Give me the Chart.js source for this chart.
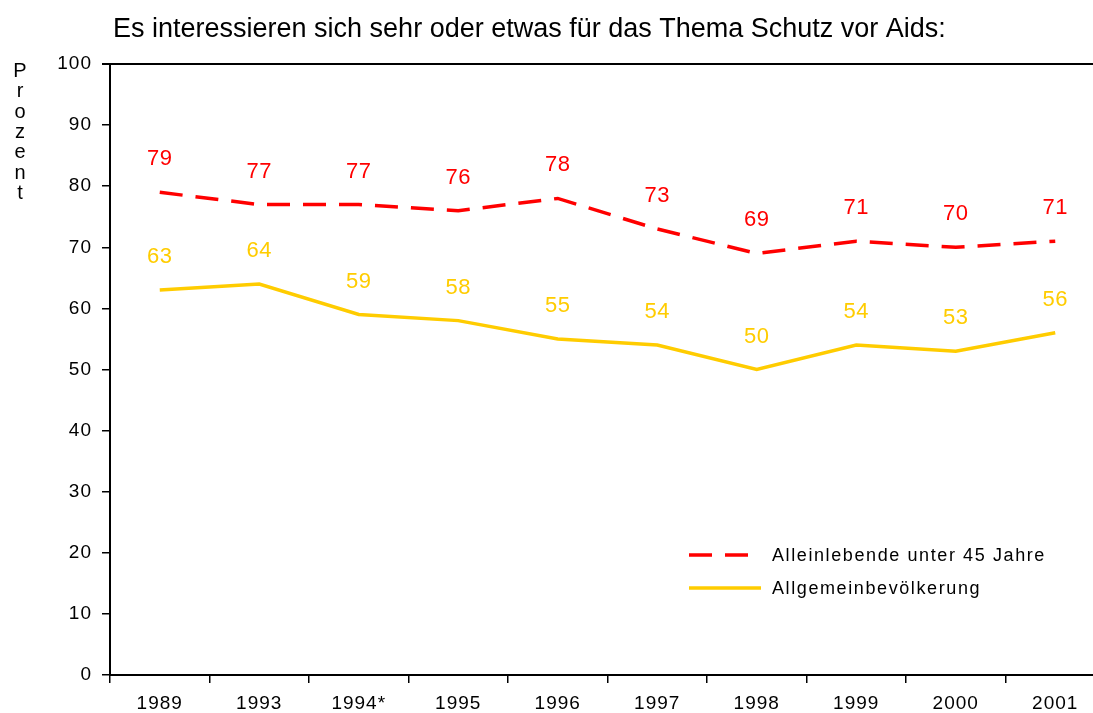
<!DOCTYPE html>
<html>
<head>
<meta charset="utf-8">
<script src="https://cdn.jsdelivr.net/npm/chart.js@4"></script>
<style>
  html, body { margin: 0; padding: 0; background: #fff; overflow: hidden; }
  #wrap { width: 1093px; height: 713px; overflow: hidden; }
</style>
</head>
<body>
<div id="wrap"><canvas id="chart" width="1110" height="713"></canvas></div>
<script>
// ----------------------------
// DATA
// ----------------------------
const years = ["1989", "1993", "1994*", "1995", "1996", "1997", "1998", "1999", "2000", "2001"];
const singlesUnder45 = [79, 77, 77, 76, 78, 73, 69, 71, 70, 71];
const generalPopulation = [63, 64, 59, 58, 55, 54, 50, 54, 53, 56];
const yTicks = [0, 10, 20, 30, 40, 50, 60, 70, 80, 90, 100];

const chartTitle = "Es interessieren sich sehr oder etwas für das Thema Schutz vor Aids:";
const yTitle = "Prozent";

const RED = "#ff0000";
const YELLOW = "#ffcc00";
const FONT = "'Liberation Sans', Arial, sans-serif";

// ----------------------------
// EXTRA DRAWING (labels, legend, title)
// ----------------------------
const extrasPlugin = {
  id: "extras",
  beforeDraw(chart) {
    chart.ctx.letterSpacing = "1px";
  },
  afterDatasetsDraw(chart) {
    const ctx = chart.ctx;
    ctx.save();
    ctx.letterSpacing = "0.6px";
    ctx.font = "22px " + FONT;
    ctx.textAlign = "center";
    ctx.textBaseline = "alphabetic";
    chart.data.datasets.forEach((ds, i) => {
      const meta = chart.getDatasetMeta(i);
      ctx.fillStyle = ds.borderColor;
      meta.data.forEach((pt, j) => {
        ctx.fillText(String(ds.data[j]), pt.x, pt.y - 27);
      });
    });
    ctx.restore();
  },
  afterDraw(chart) {
    const ctx = chart.ctx;
    const area = chart.chartArea;
    ctx.save();

    // top frame line
    ctx.strokeStyle = "#000";
    ctx.lineWidth = 2;
    ctx.beginPath();
    ctx.moveTo(area.left - 8, area.top);
    ctx.lineTo(area.right, area.top);
    ctx.stroke();

    // title
    ctx.letterSpacing = "0px";
    ctx.fillStyle = "#000";
    ctx.font = "27px " + FONT;
    ctx.textAlign = "left";
    ctx.textBaseline = "alphabetic";
    ctx.fillText(chartTitle, 113, 37);

    // vertical y title, one letter per line
    ctx.font = "20px " + FONT;
    ctx.textAlign = "center";
    yTitle.split("").forEach((ch, k) => {
      ctx.fillText(ch, 20, 77 + k * 20.3);
    });

    // legend
    ctx.font = "18px " + FONT;
    ctx.letterSpacing = "1.6px";
    ctx.textAlign = "left";
    ctx.textBaseline = "middle";
    const rows = [
      { y: 555, ds: chart.data.datasets[0] },
      { y: 588, ds: chart.data.datasets[1] },
    ];
    rows.forEach((r) => {
      ctx.strokeStyle = r.ds.borderColor;
      ctx.lineWidth = r.ds.borderWidth;
      ctx.setLineDash(r.ds.borderDash || []);
      ctx.beginPath();
      ctx.moveTo(689, r.y);
      ctx.lineTo(r.ds.borderDash ? 750 : 761, r.y);
      ctx.stroke();
      ctx.setLineDash([]);
      ctx.fillStyle = "#000";
      ctx.fillText(r.ds.label, 772, r.y + 1);
    });
    ctx.restore();
  },
};

// ----------------------------
// CHART
// ----------------------------
const axisGrid = {
  display: true,
  drawOnChartArea: false,
  drawTicks: true,
  tickLength: 8,
  color: "#000",
  lineWidth: 1.5,
};

new Chart(document.getElementById("chart"), {
  type: "line",
  data: {
    labels: years,
    datasets: [
      {
        label: "Alleinlebende unter 45 Jahre",
        data: singlesUnder45,
        borderColor: RED,
        borderWidth: 3.5,
        borderDash: [23, 13],
        pointRadius: 0,
        tension: 0,
        fill: false,
      },
      {
        label: "Allgemeinbevölkerung",
        data: generalPopulation,
        borderColor: YELLOW,
        borderWidth: 3.5,
        pointRadius: 0,
        tension: 0,
        fill: false,
      },
    ],
  },
  options: {
    responsive: false,
    animation: false,
    layout: { padding: { top: 64, right: 5, left: 0, bottom: 0 } },
    plugins: {
      legend: { display: false },
      title: { display: false },
      tooltip: { enabled: false },
    },
    scales: {
      x: {
        offset: true,
        grid: Object.assign({}, axisGrid, { offset: true }),
        border: { display: true, color: "#000", width: 2 },
        ticks: {
          color: "#000",
          font: { family: FONT, size: 19 },
          padding: 9,
          maxRotation: 0,
          autoSkip: false,
        },
        afterFit: (s) => { s.height = 38; },
      },
      y: {
        min: yTicks[0],
        max: yTicks[yTicks.length - 1],
        afterBuildTicks: (s) => { s.ticks = yTicks.map((v) => ({ value: v })); },
        grid: axisGrid,
        border: { display: true, color: "#000", width: 2 },
        ticks: {
          color: "#000",
          font: { family: FONT, size: 19 },
          padding: 10,
        },
        afterFit: (s) => { s.width = 110; },
      },
    },
  },
  plugins: [extrasPlugin],
});
</script>
</body>
</html>
